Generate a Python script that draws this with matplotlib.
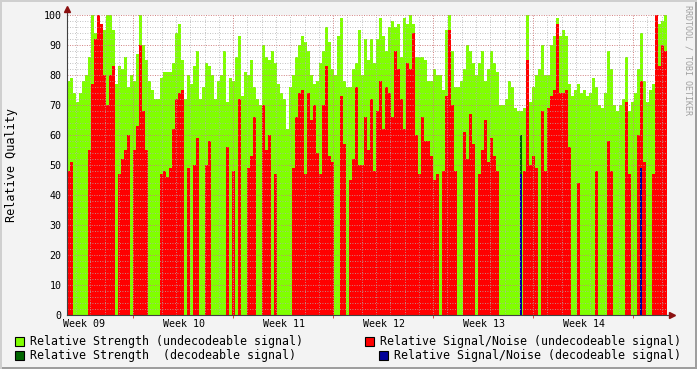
import numpy as np
import matplotlib
matplotlib.use('Agg')
import matplotlib.pyplot as plt
from matplotlib.patches import Rectangle

N = np.nan

# one bar ~ 5 hours, 200 bars over six weeks
strength = [78, 79, 74, 71, 74, 78, 80, 86, 100, 94,
            100, 96, 95, 100, 100, 95, 77, 83, 82, 86,
            76, 80, 78, 87, 100, 90, 85, 78, 75, 72,
            72, 79, 81, 81, 81, 84, 94, 97, 85, 72,
            80, 77, 83, 88, 72, 76, 84, 83, 80, 72,
            78, 80, 88, 71, 79, 78, 86, 93, 73, 81,
            80, 85, 76, 72, 70, 90, 86, 85, 88, 84,
            77, 74, 72, 62, 76, 80, 86, 90, 93, 91,
            88, 80, 77, 78, 84, 88, 96, 91, 82, 80,
            93, 99, 78, 76, 76, 82, 84, 95, 80, 92,
            85, 92, 84, 92, 99, 93, 88, 96, 98, 96,
            97, 86, 99, 97, 100, 97, 86, 86, 86, 85,
            78, 78, 82, 80, 80, 75, 95, 100, 88, 76,
            76, 78, 82, 90, 88, 84, 80, 84, 88, 78,
            82, 88, 84, 81, 70, 70, 72, 78, 76, 69,
            68, 68, 69, 100, 71, 76, 80, 82, 90, 80,
            80, 90, 93, 99, 93, 95, 93, 77, 73, 75,
            77, 74, 75, 73, 74, 79, 76, 70, 69, 74,
            88, 82, 70, 68, 70, 72, 86, 68, 71, 74,
            82, 94, 78, 71, 75, 77, 88, 97, 98, 100]

snr = [48, 51, N, N, N, N, N, 55, 77, 92,
       100, 97, 80, 70, 80, 83, N, 47, 52, 55,
       60, N, 55, 63, 90, 68, 55, N, N, N,
       N, 47, 48, 46, 49, 62, 72, 74, 75, N,
       49, N, 50, 59, N, N, 50, 58, N, N,
       N, N, N, 56, N, 48, N, 72, N, N,
       49, 53, 66, N, N, 70, 55, 60, N, 47,
       N, N, N, N, N, 49, 66, 74, 75, 47,
       74, 65, 70, 54, 47, 70, 83, 53, 51, N,
       N, 73, 57, N, 45, 52, 76, 50, 50, 66,
       55, 72, 48, 68, 78, 62, 76, 74, 66, 88,
       82, 72, 62, 84, 82, 94, 60, 47, 66, 58,
       58, 53, 45, 47, N, 48, 73, 95, 70, 48,
       N, N, 61, 52, 67, 57, N, 47, 55, 65,
       51, 59, 53, 48, N, N, N, N, N, N,
       N, N, 48, 85, 50, 53, 49, N, 68, 48,
       69, 73, 75, 97, 74, 74, 75, 56, N, N,
       44, N, N, N, N, N, 48, N, N, N,
       58, 48, N, N, N, N, 71, 47, N, N,
       60, 78, 51, N, N, 47, 100, 83, 90, 88]

# decodeable samples (only a couple)
dec_idx = [151, 191]
dec_strength = [60, N]
dec_snr = [47, 49]

week_labels = ['Week 09', 'Week 10', 'Week 11', 'Week 12', 'Week 13', 'Week 14']

strength = np.array(strength, dtype=float)
snr = np.array(snr, dtype=float)
x = np.arange(len(strength))

W, H = 697, 369
fig = plt.figure(figsize=(W / 100, H / 100), dpi=100)
fig.patch.set_facecolor('#F3F3F3')
ax = fig.add_axes([67 / W, 54 / H, 600 / W, 300 / H])
ax.set_facecolor('white')

ax.bar(x, strength, width=1, align='edge', color='#80FF00', linewidth=0, antialiased=False, zorder=1)
m = ~np.isnan(snr)
ax.bar(x[m], snr[m], width=1, align='edge', color='#FF0000', linewidth=0, antialiased=False, zorder=2)
for i, s, r in zip(dec_idx, dec_strength, dec_snr):
    if not np.isnan(s):
        ax.bar(i, s, width=0.6, align='edge', color='#006600', linewidth=0, antialiased=False, zorder=2.5)
    ax.bar(i, r, width=0.6, align='edge', color='#000099', linewidth=0, antialiased=False, zorder=2.6)

ax.set_xlim(0, 200)
ax.set_ylim(0, 100)

# grid (drawn over the data like rrdtool does)
for yv in range(2, 101, 2):
    if yv % 10:
        ax.axhline(yv, color='#B0B0B0', lw=0.6, ls=(0, (1, 2)), zorder=3)
    else:
        ax.axhline(yv, color='#D08080', lw=0.7, ls=(0, (1, 1.5)), zorder=3)
day0 = 3.0
day = 100 / 3 / 7
wk = [22 + k * 100 / 3 for k in range(6)]
for k in range(42):
    xv = day0 + k * day
    if xv > 200:
        break
    if min(abs(xv - w) for w in wk) > 0.5:
        ax.axvline(xv, color='#B0B0B0', lw=0.6, ls=(0, (1, 2)), zorder=3)
for w in wk:
    ax.axvline(w, color='#D08080', lw=0.7, ls=(0, (1, 1.5)), zorder=3)

for s in ['top', 'right']:
    ax.spines[s].set_visible(False)
ax.spines['left'].set_color('#404040')
ax.spines['bottom'].set_color('#404040')
ax.spines['left'].set_zorder(4)
ax.spines['bottom'].set_zorder(4)

mono = 'DejaVu Sans Mono'
ax.set_yticks(range(0, 101, 10))
ax.set_yticklabels([str(v) for v in range(0, 101, 10)], family=mono, fontsize=7.2)
ax.tick_params(axis='y', length=0, pad=4)
ax.set_xticks([5.67 + k * 100 / 3 for k in range(6)])
ax.set_xticklabels(week_labels, family=mono, fontsize=7.2)
ax.tick_params(axis='x', length=0, pad=3)
ax.set_xticks(wk, minor=True)
ax.tick_params(axis='x', which='minor', length=2.5, color='#D04040', direction='out', width=0.7)

# axis arrows
ax.plot([0, 0], [1, 1.015], color='#404040', lw=0.8, transform=ax.transAxes, clip_on=False)
ax.plot([1, 1.006], [0, 0], color='#404040', lw=0.8, transform=ax.transAxes, clip_on=False)
ax.plot([0], [1.02], marker='^', color='#8B1010', ms=4, transform=ax.transAxes, clip_on=False)
ax.plot([1.009], [0], marker='>', color='#8B1010', ms=4, transform=ax.transAxes, clip_on=False)

fig.text(12 / W, 1 - 165 / H, 'Relative Quality', rotation=90, family=mono, fontsize=8.5,
         ha='center', va='center')
fig.text(688 / W, 1 - 60 / H, 'RRDTOOL / TOBI OETIKER', rotation=270, family=mono, fontsize=6,
         ha='center', va='center', color='#A0A0A0')

# legend
items = [(15, 341, '#80FF00', 'Relative Strength (undecodeable signal)'),
         (365, 341, '#FF0000', 'Relative Signal/Noise (undecodeable signal)'),
         (15, 355, '#006600', 'Relative Strength  (decodeable signal)'),
         (379, 355, '#000099', 'Relative Signal/Noise (decodeable signal)')]
for bx, by, c, t in items:
    fig.patches.append(Rectangle((bx / W, 1 - (by + 4.5) / H), 9 / W, 9 / H, facecolor=c,
                                 edgecolor='black', lw=0.8, transform=fig.transFigure))
    fig.text((bx + 15) / W, 1 - by / H, t, family=mono, fontsize=8.4, va='center', ha='left')

# frame shading
fig.patches.append(Rectangle((0, 0), 1, 2 / H, facecolor='#9E9E9E', lw=0, transform=fig.transFigure))
fig.patches.append(Rectangle((1 - 2 / W, 0), 2 / W, 1, facecolor='#9E9E9E', lw=0, transform=fig.transFigure))
fig.patches.append(Rectangle((0, 1 - 2 / H), 1, 2 / H, facecolor='#CFCFCF', lw=0, transform=fig.transFigure))
fig.patches.append(Rectangle((0, 0), 2 / W, 1, facecolor='#CFCFCF', lw=0, transform=fig.transFigure))

fig.savefig('out.png', dpi=100, facecolor=fig.get_facecolor())
